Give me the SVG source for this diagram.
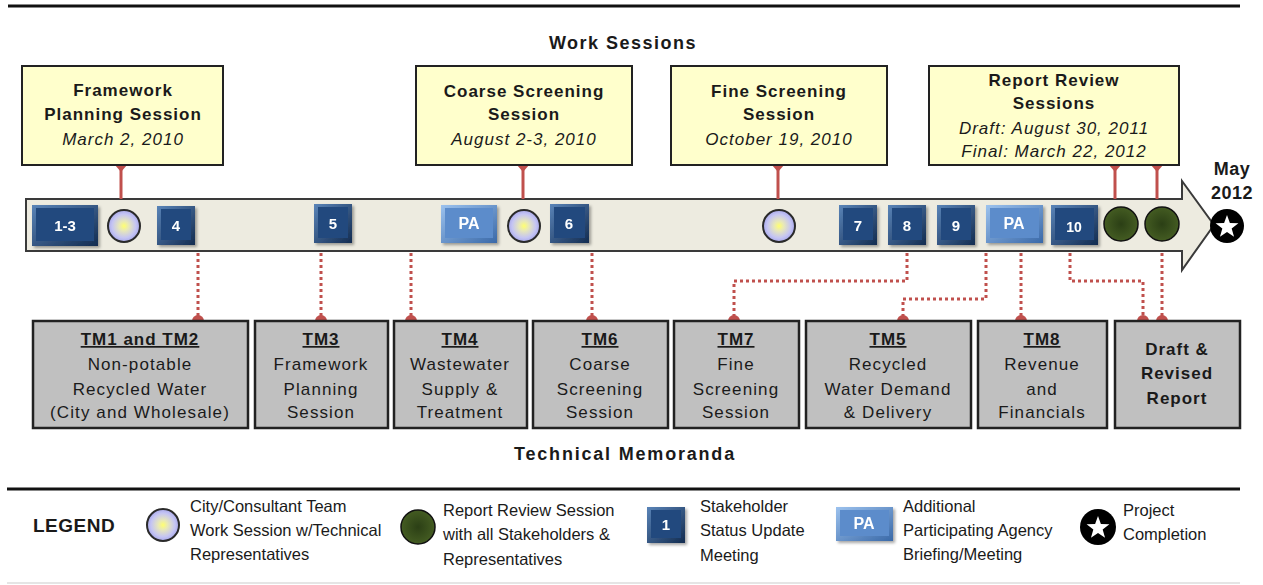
<svg xmlns="http://www.w3.org/2000/svg" width="1263" height="585" viewBox="0 0 1263 585">
<defs>
<style>
text{font-family:"Liberation Sans",Arial,sans-serif;fill:#1a1a1a}
.ttl{font-size:17px;font-weight:bold;letter-spacing:1px;text-anchor:middle}
.it{font-size:17px;font-style:italic;letter-spacing:1px;text-anchor:middle}
.reg{font-size:17px;letter-spacing:1.1px;text-anchor:middle}
.hd{font-size:18px;font-weight:bold;letter-spacing:1.5px;text-anchor:middle}
.u{text-decoration:underline}
.num{font-size:15px;font-weight:bold;fill:#fff;text-anchor:middle}
.lg{font-size:16.5px}
.ybox{fill:#FFFFCC;stroke:#222;stroke-width:2}
.gbox{fill:#C0C0C0;stroke:#222;stroke-width:2.5}
.stem{stroke:#C0504D;stroke-width:3;fill:none}
.dot{stroke:#C0504D;stroke-width:3;fill:none;stroke-dasharray:3 3}
.red{fill:#C0504D}
.bo{fill:url(#gDark)}
.bi{fill:#214A7E}
.po{fill:url(#gLight)}
.pi{fill:#5B8CCB}
.lc{fill:url(#gLav);stroke:#2a2a2a;stroke-width:2}
.gc{fill:url(#gGreen);stroke:#111;stroke-width:1.5}
</style>
<linearGradient id="gDark" x1="0" y1="0" x2="1" y2="1"><stop offset="0" stop-color="#5A84B8"/><stop offset="1" stop-color="#132C50"/></linearGradient>
<linearGradient id="gLight" x1="0" y1="0" x2="1" y2="1"><stop offset="0" stop-color="#9CC2EE"/><stop offset="1" stop-color="#3A69A8"/></linearGradient>
<radialGradient id="gLav"><stop offset="0" stop-color="#FFFF70"/><stop offset="0.3" stop-color="#E8E8B8"/><stop offset="0.75" stop-color="#C4C4F4"/><stop offset="1" stop-color="#A8A8E8"/></radialGradient>
<radialGradient id="gGreen"><stop offset="0" stop-color="#2B3F15"/><stop offset="1" stop-color="#445C22"/></radialGradient>
<filter id="sh" x="-20%" y="-20%" width="150%" height="160%"><feDropShadow dx="2" dy="2" stdDeviation="1.5" flood-color="#000" flood-opacity="0.35"/></filter>
<path id="star" d="M0,-12 L2.88,-3.96 L11.41,-3.71 L4.66,1.51 L7.05,9.71 L0,4.9 L-7.05,9.71 L-4.66,1.51 L-11.41,-3.71 L-2.88,-3.96 Z" fill="#fff"/>
</defs>

<rect width="1263" height="585" fill="#fff"/>
<line x1="8" y1="6" x2="1240" y2="6" stroke="#111" stroke-width="3"/>
<text class="hd" x="623" y="49">Work Sessions</text>
<text class="hd" x="625" y="460" style="letter-spacing:1.8px">Technical Memoranda</text>

<g id="timeline">
<path d="M26,199 H1182 V181 L1214,225 L1182,270 V251 H26 Z" fill="#EDEBE0" stroke="#3a3a3a" stroke-width="2"/>
</g>

<g id="connectors">
<line class="stem" x1="121" y1="165" x2="121" y2="199"/><polygon class="red" points="115,165 127,165 121,172"/>
<line class="stem" x1="523" y1="165" x2="523" y2="199"/><polygon class="red" points="517,165 529,165 523,172"/>
<line class="stem" x1="778" y1="165" x2="778" y2="199"/><polygon class="red" points="772,165 784,165 778,172"/>
<line class="stem" x1="1115" y1="165" x2="1115" y2="199"/><polygon class="red" points="1109,165 1121,165 1115,172"/>
<line class="stem" x1="1157" y1="165" x2="1157" y2="199"/><polygon class="red" points="1151,165 1163,165 1157,172"/>

<path class="dot" d="M198,253 V317"/>
<path class="dot" d="M321,253 V317"/>
<path class="dot" d="M411,253 V317"/>
<path class="dot" d="M592,253 V317"/>
<path class="dot" d="M907,253 V281 H734 V317"/>
<path class="dot" d="M986,253 V299 H903 V317"/>
<path class="dot" d="M1021,253 V317"/>
<path class="dot" d="M1070,253 V281 H1143 V317"/>
<path class="dot" d="M1162,253 V317"/>
<g class="red">
<path d="M192,321 A6,6 0 0 1 204,321 Z"/>
<path d="M315,321 A6,6 0 0 1 327,321 Z"/>
<path d="M405,321 A6,6 0 0 1 417,321 Z"/>
<path d="M586,321 A6,6 0 0 1 598,321 Z"/>
<path d="M728,321 A6,6 0 0 1 740,321 Z"/>
<path d="M897,321 A6,6 0 0 1 909,321 Z"/>
<path d="M1015,321 A6,6 0 0 1 1027,321 Z"/>
<path d="M1137,321 A6,6 0 0 1 1149,321 Z"/>
<path d="M1156,321 A6,6 0 0 1 1168,321 Z"/>
</g>
</g>

<g id="ws-framework">
<rect class="ybox" x="22" y="66" width="201" height="99"/>
<text class="ttl" x="123" y="96">Framework</text>
<text class="ttl" x="123" y="120">Planning Session</text>
<text class="it" x="123" y="145">March 2, 2010</text>
</g>
<g id="ws-coarse">
<rect class="ybox" x="416" y="66" width="216" height="99"/>
<text class="ttl" x="524" y="97">Coarse Screening</text>
<text class="ttl" x="524" y="120">Session</text>
<text class="it" x="524" y="145">August 2-3, 2010</text>
</g>
<g id="ws-fine">
<rect class="ybox" x="671" y="66" width="216" height="99"/>
<text class="ttl" x="779" y="97">Fine Screening</text>
<text class="ttl" x="779" y="120">Session</text>
<text class="it" x="779" y="145">October 19, 2010</text>
</g>
<g id="ws-report">
<rect class="ybox" x="929" y="66" width="250" height="99"/>
<text class="ttl" x="1054" y="86">Report Review</text>
<text class="ttl" x="1054" y="109">Sessions</text>
<text class="it" x="1054" y="134">Draft: August 30, 2011</text>
<text class="it" x="1054" y="157">Final: March 22, 2012</text>
</g>

<g id="m-1-3" filter="url(#sh)"><rect class="bo" x="32" y="205" width="66" height="41"/><rect class="bi" x="36" y="208" width="58" height="33"/><text class="num" x="65" y="231">1-3</text></g>
<g id="m-ws1"><circle class="lc" cx="124" cy="226" r="16"/></g>
<g id="m-4" filter="url(#sh)"><rect class="bo" x="157" y="206" width="38" height="39"/><rect class="bi" x="161" y="209" width="30" height="31"/><text class="num" x="176" y="231">4</text></g>
<g id="m-5" filter="url(#sh)"><rect class="bo" x="314" y="204" width="38" height="39"/><rect class="bi" x="318" y="207" width="30" height="31"/><text class="num" x="333" y="229">5</text></g>
<g id="m-pa1" filter="url(#sh)"><rect class="po" x="441" y="205" width="56" height="38"/><rect class="pi" x="445" y="208" width="48" height="30"/><text class="num" x="469" y="229" style="font-size:16px">PA</text></g>
<g id="m-ws2"><circle class="lc" cx="524" cy="226" r="16"/></g>
<g id="m-6" filter="url(#sh)"><rect class="bo" x="550" y="204" width="39" height="39"/><rect class="bi" x="554" y="207" width="31" height="31"/><text class="num" x="569" y="229">6</text></g>
<g id="m-ws3"><circle class="lc" cx="779" cy="226" r="16"/></g>
<g id="m-7" filter="url(#sh)"><rect class="bo" x="839" y="205" width="38" height="40"/><rect class="bi" x="843" y="208" width="30" height="32"/><text class="num" x="858" y="231">7</text></g>
<g id="m-8" filter="url(#sh)"><rect class="bo" x="888" y="205" width="38" height="40"/><rect class="bi" x="892" y="208" width="30" height="32"/><text class="num" x="907" y="231">8</text></g>
<g id="m-9" filter="url(#sh)"><rect class="bo" x="937" y="205" width="38" height="40"/><rect class="bi" x="941" y="208" width="30" height="32"/><text class="num" x="956" y="231">9</text></g>
<g id="m-pa2" filter="url(#sh)"><rect class="po" x="986" y="205" width="57" height="38"/><rect class="pi" x="990" y="208" width="49" height="30"/><text class="num" x="1014" y="229" style="font-size:16px">PA</text></g>
<g id="m-10" filter="url(#sh)"><rect class="bo" x="1051" y="205" width="47" height="40"/><rect class="bi" x="1055" y="208" width="39" height="32"/><text class="num" x="1074" y="232" style="font-size:14px">10</text></g>
<g id="m-rr1"><circle class="gc" cx="1121" cy="224" r="17"/></g>
<g id="m-rr2"><circle class="gc" cx="1162" cy="224" r="17"/></g>
<g id="m-end"><circle cx="1227" cy="226" r="17" fill="#000"/><use href="#star" x="1227" y="227"/></g>
<g id="lbl-may"><text class="hd" x="1232" y="175" style="letter-spacing:0.5px">May</text><text class="hd" x="1232" y="199" style="letter-spacing:0.5px">2012</text></g>

<g id="tm1">
<rect class="gbox" x="33" y="321" width="215" height="107"/>
<text class="ttl u" x="140" y="345">TM1 and TM2</text>
<text class="reg" x="140" y="370">Non-potable</text>
<text class="reg" x="140" y="395">Recycled Water</text>
<text class="reg" x="140" y="418">(City and Wholesale)</text>
</g>
<g id="tm3">
<rect class="gbox" x="255" y="321" width="133" height="107"/>
<text class="ttl u" x="321" y="345">TM3</text>
<text class="reg" x="321" y="370">Framework</text>
<text class="reg" x="321" y="395">Planning</text>
<text class="reg" x="321" y="418">Session</text>
</g>
<g id="tm4">
<rect class="gbox" x="394" y="321" width="133" height="107"/>
<text class="ttl u" x="460" y="345">TM4</text>
<text class="reg" x="460" y="370">Wastewater</text>
<text class="reg" x="460" y="395">Supply &amp;</text>
<text class="reg" x="460" y="418">Treatment</text>
</g>
<g id="tm6">
<rect class="gbox" x="533" y="321" width="135" height="107"/>
<text class="ttl u" x="600" y="345">TM6</text>
<text class="reg" x="600" y="370">Coarse</text>
<text class="reg" x="600" y="395">Screening</text>
<text class="reg" x="600" y="418">Session</text>
</g>
<g id="tm7">
<rect class="gbox" x="674" y="321" width="125" height="107"/>
<text class="ttl u" x="736" y="345">TM7</text>
<text class="reg" x="736" y="370">Fine</text>
<text class="reg" x="736" y="395">Screening</text>
<text class="reg" x="736" y="418">Session</text>
</g>
<g id="tm5">
<rect class="gbox" x="806" y="321" width="165" height="107"/>
<text class="ttl u" x="888" y="345">TM5</text>
<text class="reg" x="888" y="370">Recycled</text>
<text class="reg" x="888" y="395">Water Demand</text>
<text class="reg" x="888" y="418">&amp; Delivery</text>
</g>
<g id="tm8">
<rect class="gbox" x="978" y="321" width="129" height="107"/>
<text class="ttl u" x="1042" y="345">TM8</text>
<text class="reg" x="1042" y="370">Revenue</text>
<text class="reg" x="1042" y="395">and</text>
<text class="reg" x="1042" y="418">Financials</text>
</g>
<g id="draft">
<rect class="gbox" x="1115" y="321" width="125" height="107"/>
<text class="ttl" x="1177" y="355">Draft &amp;</text>
<text class="ttl" x="1177" y="379">Revised</text>
<text class="ttl" x="1177" y="404">Report</text>
</g>

<g id="legend">
<line x1="7" y1="489" x2="1240" y2="489" stroke="#111" stroke-width="3"/>
<line x1="7" y1="583" x2="1240" y2="583" stroke="#ddd" stroke-width="1.5"/>
<text x="33" y="532" style="font-size:19px;font-weight:bold;letter-spacing:0.5px">LEGEND</text>
<circle class="lc" cx="163" cy="525" r="16"/>
<text class="lg" x="190" y="512">City/Consultant Team</text>
<text class="lg" x="190" y="536">Work Session w/Technical</text>
<text class="lg" x="190" y="560">Representatives</text>
<circle class="gc" cx="418" cy="527" r="17"/>
<text class="lg" x="443" y="516">Report Review Session</text>
<text class="lg" x="443" y="540">with all Stakeholders &amp;</text>
<text class="lg" x="443" y="565">Representatives</text>
<g filter="url(#sh)"><rect class="bo" x="647" y="507" width="38" height="36"/><rect class="bi" x="651" y="510" width="30" height="28"/><text class="num" x="666" y="530">1</text></g>
<text class="lg" x="700" y="512">Stakeholder</text>
<text class="lg" x="700" y="536">Status Update</text>
<text class="lg" x="700" y="561">Meeting</text>
<g filter="url(#sh)"><rect class="po" x="836" y="507" width="57" height="34"/><rect class="pi" x="840" y="510" width="49" height="26"/><text class="num" x="864" y="529" style="font-size:16px">PA</text></g>
<text class="lg" x="903" y="512">Additional</text>
<text class="lg" x="903" y="536">Participating Agency</text>
<text class="lg" x="903" y="560">Briefing/Meeting</text>
<circle cx="1098" cy="527" r="18" fill="#000"/><use href="#star" x="1098" y="528"/>
<text class="lg" x="1123" y="516">Project</text>
<text class="lg" x="1123" y="540">Completion</text>
</g>
</svg>
